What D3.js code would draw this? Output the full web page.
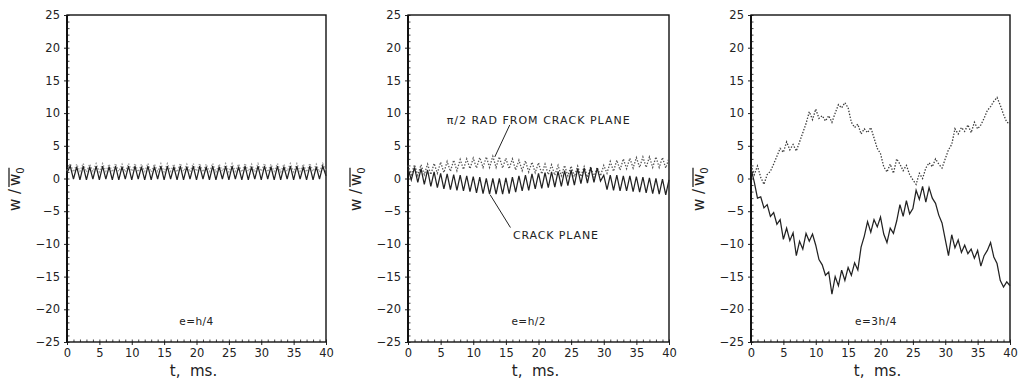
<!DOCTYPE html>
<html>
<head>
<meta charset="utf-8">
<script src="https://cdn.jsdelivr.net/npm/d3@7"></script>
<style>
  body { margin: 0; background: #fff; }
  svg text { font-family: "DejaVu Sans", sans-serif; fill: #222; }
</style>
</head>
<body>
<div id="chart-area"></div>
<script>
// sample times, ms
const time = [
  0, 0.5, 1, 1.5, 2, 2.5, 3, 3.5, 4, 4.5,
  5, 5.5, 6, 6.5, 7, 7.5, 8, 8.5, 9, 9.5,
  10, 10.5, 11, 11.5, 12, 12.5, 13, 13.5, 14, 14.5,
  15, 15.5, 16, 16.5, 17, 17.5, 18, 18.5, 19, 19.5,
  20, 20.5, 21, 21.5, 22, 22.5, 23, 23.5, 24, 24.5,
  25, 25.5, 26, 26.5, 27, 27.5, 28, 28.5, 29, 29.5,
  30, 30.5, 31, 31.5, 32, 32.5, 33, 33.5, 34, 34.5,
  35, 35.5, 36, 36.5, 37, 37.5, 38, 38.5, 39, 39.5,
  40
];

// e = h/4
const h4Crack = [
  0.9, 1.9, -0.1, 1.8, -0.2, 1.9, -0.2, 1.8, -0.1, 1.9,
  -0.2, 1.9, -0.1, 1.8, -0.2, 1.9, -0.2, 1.8, -0.1, 1.9,
  -0.2, 1.9, -0.1, 1.8, -0.2, 1.9, -0.2, 1.8, -0.1, 1.9,
  -0.2, 1.9, -0.1, 1.8, -0.2, 1.9, -0.2, 1.8, -0.1, 1.9,
  -0.2, 1.9, -0.1, 1.8, -0.2, 1.9, -0.2, 1.8, -0.1, 1.9,
  -0.2, 1.9, -0.1, 1.8, -0.2, 1.9, -0.2, 1.8, -0.1, 1.9,
  -0.2, 1.9, -0.1, 1.8, -0.2, 1.9, -0.2, 1.8, -0.1, 1.9,
  -0.2, 1.9, -0.1, 1.8, -0.2, 1.9, -0.2, 1.8, -0.1, 1.9,
  0.4
];
const h4Rad = [
  1.2, 2.3, 1.0, 2.2, 1.1, 2.3, 1.0, 2.2, 1.1, 2.3,
  1.0, 2.3, 1.1, 2.2, 1.0, 2.3, 1.1, 2.2, 1.0, 2.3,
  1.1, 2.3, 1.0, 2.2, 1.1, 2.3, 1.0, 2.2, 1.1, 2.3,
  1.0, 2.3, 1.1, 2.2, 1.0, 2.3, 1.1, 2.2, 1.0, 2.3,
  1.1, 2.3, 1.0, 2.2, 1.1, 2.3, 1.0, 2.2, 1.1, 2.3,
  1.0, 2.3, 1.1, 2.2, 1.0, 2.3, 1.1, 2.2, 1.0, 2.3,
  1.1, 2.3, 1.0, 2.2, 1.1, 2.3, 1.0, 2.2, 1.1, 2.3,
  1.0, 2.3, 1.1, 2.2, 1.0, 2.3, 1.1, 2.2, 1.0, 2.3,
  1.2
];

// e = h/2
const h2Crack = [
  1.5, -0.2, 1.7, -0.6, 1.5, -0.9, 1.3, -1.2, 1.0, -1.4,
  0.8, -1.6, 0.7, -1.7, 0.6, -1.8, 0.5, -1.9, 0.4, -2.0,
  0.3, -2.2, 0.2, -2.3, 0.0, -2.4, 0.0, -2.4, 0.0, -2.4,
  0.1, -2.3, 0.2, -2.1, 0.4, -1.9, 0.5, -1.8, 0.7, -1.6,
  0.8, -1.5, 0.9, -1.4, 1.0, -1.3, 1.1, -1.2, 1.2, -1.1,
  1.3, -1.0, 1.5, -0.8, 1.6, -0.7, 1.7, -0.6, 1.6, -0.4,
  0.5, -1.7, 0.5, -1.8, 0.5, -1.9, 0.4, -1.9, 0.4, -2.0,
  0.3, -2.1, 0.2, -2.2, 0.1, -2.3, 0.0, -2.4, -0.1, -2.5,
  -0.2
];
const h2Rad = [
  2.0, 0.6, 2.1, 0.5, 2.1, 0.6, 2.2, 0.6, 2.3, 0.8,
  2.5, 0.9, 2.6, 1.1, 2.8, 1.2, 2.9, 1.4, 3.0, 1.5,
  3.1, 1.6, 3.2, 1.7, 3.3, 1.7, 3.4, 1.7, 3.3, 1.6,
  3.1, 1.5, 3.0, 1.3, 2.8, 1.2, 2.7, 1.0, 2.5, 0.9,
  2.4, 0.7, 2.2, 0.6, 2.1, 0.5, 2.0, 0.4, 2.0, 0.4,
  1.9, 0.3, 1.9, 0.3, 1.8, 0.2, 1.8, 0.2, 1.7, 0.4,
  2.0, 0.8, 2.6, 1.1, 2.8, 1.3, 3.0, 1.5, 3.1, 1.6,
  3.2, 1.7, 3.3, 1.7, 3.3, 1.7, 3.3, 1.7, 3.2, 1.6,
  3.1
];

// e = 3h/4
const h34Crack = [
  1.5, -0.5, -3.0, -2.8, -4.5, -4.0, -5.8, -5.2, -7.0, -6.3,
  -9.3, -7.6, -9.5, -8.3, -11.8, -9.6, -10.8, -8.4, -9.6, -8.5,
  -10.2, -12.4, -13.2, -14.8, -14.3, -17.7, -15.0, -16.4, -14.0, -15.6,
  -13.6, -14.8, -12.9, -14.0, -10.5, -8.8, -6.6, -8.2, -6.3, -7.4,
  -5.9, -8.5, -9.8, -7.6, -8.4, -6.5, -4.0, -5.8, -3.4, -5.4,
  -4.6, -1.8, -3.2, -1.2, -3.6, -1.4, -3.0, -3.8, -5.6, -6.8,
  -9.3, -11.8, -8.6, -10.6, -9.4, -11.3, -10.2, -11.5, -10.8, -12.2,
  -11.0, -13.4, -11.8, -11.0, -9.8, -12.0, -13.0, -15.6, -16.6, -15.8,
  -16.4
];
const h34Rad = [
  2.0, 0.6, 1.9, 0.2, -0.9, 0.6, 1.1, 2.2, 3.4, 4.6,
  4.0, 5.6, 4.4, 5.2, 4.2, 5.6, 7.0, 8.4, 10.2, 9.0,
  10.6, 9.2, 9.6, 8.8, 9.6, 8.6, 10.0, 11.3, 10.8, 11.6,
  10.8, 8.6, 7.8, 8.3, 6.8, 7.6, 7.0, 7.8, 6.2, 4.6,
  3.8, 1.8, 1.0, 2.2, 0.8, 3.0, 2.2, 1.2, 2.0, 0.6,
  -0.2, -0.9, 0.8, 0.0, 1.6, 2.4, 1.8, 3.0, 2.2, 1.6,
  3.0, 4.4, 5.2, 7.6, 6.8, 7.8, 7.2, 8.2, 7.0, 8.6,
  7.6, 8.2, 9.2, 10.4, 11.0, 11.8, 12.4, 11.2, 9.8, 8.6,
  8.4
];

// ticks
const xTicks = [0, 5, 10, 15, 20, 25, 30, 35, 40];
const yTicks = [-25, -20, -15, -10, -5, 0, 5, 10, 15, 20, 25];
const panelNotes = ['e=h/4', 'e=h/2', 'e=3h/4'];

const svg = d3.select('#chart-area')
  .append('svg')
  .attr('width', 1026)
  .attr('height', 386);

const plotTop = 15, plotBottom = 342;

// one entry per panel, frame edges in px
const panels = [
  { left: 67, right: 326, crack: h4Crack, rad: h4Rad, radColor: '#999', note: panelNotes[0], noteT: 20 },
  { left: 408, right: 669, crack: h2Crack, rad: h2Rad, radColor: '#555', note: panelNotes[1], noteT: 18.5 },
  { left: 751, right: 1010, crack: h34Crack, rad: h34Rad, radColor: '#3a3a3a', note: panelNotes[2], noteT: 19.3 }
];

panels.forEach((p, i) => {
  const x = d3.scaleLinear().domain([0, 40]).range([p.left, p.right]);
  const y = d3.scaleLinear().domain([-25, 25]).range([plotBottom, plotTop]);

  const g = svg.append('g');

  // minor ticks, pointing in
  g.append('g')
    .attr('transform', 'translate(' + p.left + ',0)')
    .call(d3.axisRight(y).tickValues(d3.range(-25, 26, 1)).tickSize(2.5).tickFormat(''))
    .call(s => s.select('.domain').remove())
    .selectAll('line').attr('stroke', '#444');
  g.append('g')
    .attr('transform', 'translate(0,' + plotBottom + ')')
    .call(d3.axisTop(x).tickValues(d3.range(0, 41, 1)).tickSize(2.5).tickFormat(''))
    .call(s => s.select('.domain').remove())
    .selectAll('line').attr('stroke', '#444');

  // major ticks and labels
  const yAxis = g.append('g')
    .attr('transform', 'translate(' + p.left + ',0)')
    .call(d3.axisLeft(y).tickValues(yTicks).tickSize(3).tickPadding(4));
  yAxis.select('.domain').remove();
  yAxis.selectAll('text').attr('font-size', '11.5px').attr('font-family', '"DejaVu Sans", sans-serif').attr('fill', '#2a2a2a');
  yAxis.selectAll('line').attr('stroke', '#222');

  const xAxis = g.append('g')
    .attr('transform', 'translate(0,' + plotBottom + ')')
    .call(d3.axisBottom(x).tickValues(xTicks).tickSize(3).tickPadding(4));
  xAxis.select('.domain').remove();
  xAxis.selectAll('text').attr('font-size', '11.5px').attr('font-family', '"DejaVu Sans", sans-serif').attr('fill', '#2a2a2a');
  xAxis.selectAll('line').attr('stroke', '#222');

  // frame
  g.append('rect')
    .attr('x', p.left).attr('y', plotTop)
    .attr('width', p.right - p.left).attr('height', plotBottom - plotTop)
    .attr('fill', 'none').attr('stroke', '#111').attr('stroke-width', 1.4);
  g.append('line')
    .attr('x1', p.left).attr('x2', p.left).attr('y1', plotTop).attr('y2', plotBottom)
    .attr('stroke', '#111').attr('stroke-width', 2);

  const line = d3.line()
    .x((d, k) => x(time[k]))
    .y(d => y(d));

  // pi/2 rad from crack plane (dotted)
  g.append('path')
    .datum(p.rad)
    .attr('d', line)
    .attr('fill', 'none')
    .attr('stroke', p.radColor)
    .attr('stroke-width', 1.3)
    .attr('stroke-dasharray', '1.4,1.6');

  // crack plane (solid)
  g.append('path')
    .datum(p.crack)
    .attr('d', line)
    .attr('fill', 'none')
    .attr('stroke', '#222')
    .attr('stroke-width', 1.25);

  // e note
  g.append('text')
    .attr('x', x(p.noteT))
    .attr('y', y(-22.4))
    .attr('text-anchor', 'middle')
    .attr('font-size', '10.5px')
    .attr('letter-spacing', '0.5px')
    .text(p.note);

  // x title
  g.append('text')
    .attr('x', (p.left + p.right) / 2 - 3)
    .attr('y', 376)
    .attr('text-anchor', 'middle')
    .attr('font-size', '15px')
    .attr('xml:space', 'preserve')
    .text('t,  ms.');

  // y title  w / w̄0
  const yt = svg.append('g')
    .attr('transform', 'translate(' + (p.left - 47) + ',186) rotate(-90)');
  const t1 = yt.append('text').attr('x', -25).attr('y', 0)
    .attr('font-size', '15px').text('w /');
  const w1 = t1.node().getComputedTextLength();
  const t2 = yt.append('text').attr('x', -25 + w1 + 3).attr('y', 0)
    .attr('font-size', '15px').text('w');
  const w2 = t2.node().getComputedTextLength();
  yt.append('line')
    .attr('x1', -25 + w1 + 2).attr('x2', -25 + w1 + 3 + w2 + 6)
    .attr('y1', -11).attr('y2', -11)
    .attr('stroke', '#222').attr('stroke-width', 1.3);
  yt.append('text').attr('x', -25 + w1 + 3 + w2).attr('y', 4)
    .attr('font-size', '10px').text('0');

  // labels on the middle panel
  if (i === 1) {
    g.append('text')
      .attr('x', 446.7).attr('y', 124)
      .attr('font-size', '11px')
      .attr('textLength', 183)
      .text('\u03c0/2 RAD FROM CRACK PLANE');
    g.append('line')
      .attr('x1', x(15.6)).attr('y1', y(8.2))
      .attr('x2', x(13.3)).attr('y2', y(3.3))
      .attr('stroke', '#222').attr('stroke-width', 1);
    g.append('text')
      .attr('x', 513).attr('y', 239)
      .attr('font-size', '11px')
      .attr('textLength', 85)
      .text('CRACK PLANE');
    g.append('line')
      .attr('x1', x(12.6)).attr('y1', y(-2.5))
      .attr('x2', x(15.7)).attr('y2', y(-7.5))
      .attr('stroke', '#222').attr('stroke-width', 1);
  }
});
</script>
</body>
</html>
